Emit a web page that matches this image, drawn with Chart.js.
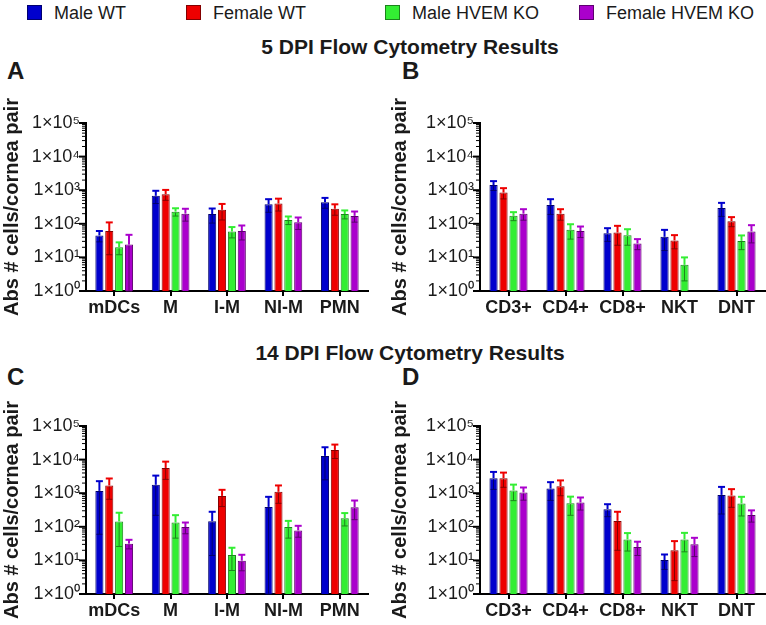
<!DOCTYPE html>
<html>
<head>
<meta charset="utf-8">
<script src="https://cdn.jsdelivr.net/npm/chart.js@4.4.1/dist/chart.umd.min.js"></script>
<style>
  body { margin: 0; background: #fff; font-family: "Liberation Sans", Arial, sans-serif; }
  #page { position: relative; width: 766px; height: 625px; overflow: hidden; }
  canvas { position: absolute; }
  .leg { position: absolute; top: 2px; font-size: 18px; color: #1a1a1a; line-height: 22px; white-space: nowrap; }
  .leg i { display: inline-block; width: 13px; height: 13px; border: 1px solid rgba(0,0,0,.45); vertical-align: -1px; margin-right: 12px; }
  .ttl { position: absolute; left: 0; width: 820px; text-align: center; font-weight: bold; font-size: 21px; color: #1a1a1a; line-height: 24px; }
  .lt { position: absolute; font-weight: bold; font-size: 24px; color: #1a1a1a; line-height: 28px; }
</style>
</head>
<body>
<div id="page">
  <div class="leg" style="left:27px"><i style="background:#0000cd"></i>Male WT</div>
  <div class="leg" style="left:186px"><i style="background:#ee0000"></i>Female WT</div>
  <div class="leg" style="left:385px"><i style="background:#33ee33"></i>Male HVEM KO</div>
  <div class="leg" style="left:579px"><i style="background:#aa00cc"></i>Female HVEM KO</div>

  <div class="ttl" style="top:35px">5 DPI Flow Cytometry Results</div>
  <div class="ttl" style="top:341px">14 DPI Flow Cytometry Results</div>
  <div class="lt" style="left:7px;top:57px">A</div>
  <div class="lt" style="left:402px;top:57px">B</div>
  <div class="lt" style="left:7px;top:363px">C</div>
  <div class="lt" style="left:402px;top:363px">D</div>

  <canvas id="chartA" width="383" height="245" style="left:0;top:85px"></canvas>
  <canvas id="chartB" width="383" height="245" style="left:383px;top:85px"></canvas>
  <canvas id="chartC" width="383" height="235" style="left:0;top:390px"></canvas>
  <canvas id="chartD" width="383" height="235" style="left:383px;top:390px"></canvas>
</div>
<script>
// groups and cell types
const series = ["Male WT", "Female WT", "Male HVEM KO", "Female HVEM KO"];
const myeloidCells = ["mDCs", "M", "I-M", "NI-M", "PMN"];
const lymphoidCells = ["CD3+", "CD4+", "CD8+", "NKT", "DNT"];
const yDecades = [0, 1, 2, 3, 4, 5];

// 5 DPI myeloid (A): means and SEM
const a_maleWT = [45, 680, 195, 380, 440];
const a_femaleWT = [61, 760, 260, 400, 280];
const a_maleKO = [20, 230, 59, 130, 195];
const a_femaleKO = [24, 200, 61, 111, 172];
const a_semMaleWT = [16, 280, 90, 160, 150];
const a_semFemaleWT = [49, 260, 130, 160, 100];
const a_semMaleKO = [8, 60, 21, 35, 55];
const a_semFemaleKO = [23, 80, 28, 43, 60];

// 5 DPI lymphoid (B)
const b_maleWT = [1420, 365, 52, 41, 293];
const b_femaleWT = [850, 200, 55, 32, 120];
const b_maleKO = [173, 66, 46, 6, 31];
const b_femaleKO = [200, 61, 26, null, 59];
const b_semMaleWT = [440, 175, 22, 25, 127];
const b_semFemaleWT = [300, 72, 32, 14, 38];
const b_semMaleKO = [49, 31, 23, 4, 14];
const b_semFemaleKO = [72, 22, 9, null, 32];

// 14 DPI myeloid (C)
const c_maleWT = [1170, 1780, 147, 390, 12900];
const c_femaleWT = [1700, 5640, 830, 1100, 19400];
const c_maleKO = [144, 134, 14.4, 98, 181];
const c_femaleKO = [31.5, 98, 9.8, 78, 384];
const c_semMaleWT = [1110, 1560, 133, 390, 10400];
const c_semFemaleWT = [1040, 3060, 430, 600, 8600];
const c_semMaleKO = [118, 88, 9.4, 52, 75];
const c_semFemaleKO = [9.5, 36, 4.9, 29, 221];

// 14 DPI lymphoid (D)
const d_maleWT = [2800, 1370, 335, 10.2, 890];
const d_femaleWT = [2800, 1620, 150, 20, 850];
const d_maleKO = [1200, 505, 42, 42, 495];
const d_femaleKO = [1050, 530, 25, 30, 223];
const d_semMaleWT = [1500, 760, 135, 4.8, 650];
const d_semFemaleWT = [1300, 780, 130, 17.5, 470];
const d_semMaleKO = [600, 285, 23, 24, 285];
const d_semFemaleKO = [430, 215, 11, 17, 85];

const fills = ["#0000cd", "#ee0000", "#33ee33", "#aa00cc"];
const edges = ["#00006e", "#860000", "#1c861c", "#5c006e"];
const FONT = "'Liberation Sans', Arial, sans-serif";
const SUP = ["\u2070", "\u00b9", "\u00b2", "\u00b3", "\u2074", "\u2075"];

const isPow10 = v => Math.abs(Math.log10(v) - Math.round(Math.log10(v))) < 1e-9;

// log axis positions 1..9 x 10^n
let yTicks = [];
yDecades.forEach(p => {
  if (p === yDecades[yDecades.length - 1]) { yTicks.push(Math.pow(10, p)); return; }
  for (let k = 1; k <= 9; k++) yTicks.push(k * Math.pow(10, p));
});

function line(ctx, x1, y1, x2, y2) {
  ctx.beginPath(); ctx.moveTo(x1, y1); ctx.lineTo(x2, y2); ctx.stroke();
}

const errorBars = {
  id: "errorBars",
  afterDatasetsDraw(chart) {
    const ctx = chart.ctx, ys = chart.scales.y;
    chart.data.datasets.forEach((ds, i) => {
      chart.getDatasetMeta(i).data.forEach((bar, j) => {
        const m = ds.data[j], e = ds.sem[j];
        if (m == null || e == null) return;
        const top = ys.getPixelForValue(m + e);
        const low = ys.getPixelForValue(Math.max(m - e, 1));
        ctx.save();
        ctx.lineWidth = 2;
        ctx.strokeStyle = ds.backgroundColor;
        line(ctx, bar.x, bar.y, bar.x, top);
        line(ctx, bar.x - 3.5, top, bar.x + 3.5, top);
        ctx.lineWidth = 1;
        ctx.strokeStyle = ds.borderColor;
        line(ctx, bar.x, bar.y + 1, bar.x, low);
        line(ctx, bar.x - 3, low, bar.x + 3, low);
        ctx.restore();
      });
    });
  }
};

const logTickMarks = {
  id: "logTickMarks",
  afterDraw(chart) {
    const ctx = chart.ctx, ys = chart.scales.y, x0 = chart.chartArea.left - 1;
    ctx.save();
    ctx.strokeStyle = "#000";
    ys.ticks.forEach(t => {
      const major = isPow10(t.value);
      const py = ys.getPixelForValue(t.value);
      ctx.lineWidth = major ? 2 : 1;
      line(ctx, x0, py, x0 - (major ? 6 : 3), py);
    });
    ctx.restore();
  }
};

function makePanel(id, cats, means, sems, box) {
  new Chart(document.getElementById(id), {
    type: "bar",
    data: {
      labels: cats,
      datasets: series.map((name, i) => ({
        label: name,
        data: means[i],
        sem: sems[i],
        backgroundColor: fills[i],
        borderColor: edges[i],
        borderWidth: 1,
        categoryPercentage: 0.7,
        barPercentage: 0.82
      }))
    },
    options: {
      responsive: false,
      animation: false,
      layout: { padding: { top: box.padTop, right: box.padRight, left: 0, bottom: 0 } },
      plugins: { legend: { display: false }, tooltip: { enabled: false } },
      scales: {
        x: {
          afterFit: s => { s.height = box.xHeight; },
          border: { display: true, color: "#000", width: 2 },
          grid: { display: true, drawOnChartArea: false, drawTicks: true, tickLength: 5, offset: false, color: "#000", lineWidth: 2 },
          ticks: { color: "#1a1a1a", padding: 1, maxRotation: 0, minRotation: 0, autoSkip: false,
                   font: { family: FONT, size: 18, weight: "bold" } }
        },
        y: {
          type: "logarithmic",
          min: 1,
          max: 100000,
          afterBuildTicks: s => { s.ticks = yTicks.map(v => ({ value: v })); },
          afterFit: s => { s.width = box.yWidth; },
          border: { display: true, color: "#000", width: 2 },
          grid: { display: false, drawTicks: false, tickLength: 0 },
          ticks: {
            autoSkip: false, padding: 6, color: "#1a1a1a",
            font: { family: FONT, size: 18 },
            callback: v => isPow10(v) ? "1\u00d710" + SUP[Math.round(Math.log10(v))] : ""
          },
          title: {
            display: true, text: "Abs # cells/cornea pair", color: "#1a1a1a",
            font: { family: FONT, size: 20, weight: "bold" },
            padding: { top: box.titlePad, bottom: 0 }
          }
        }
      }
    },
    plugins: [errorBars, logTickMarks]
  });
}

makePanel("chartA", myeloidCells,
  [a_maleWT, a_femaleWT, a_maleKO, a_femaleKO],
  [a_semMaleWT, a_semFemaleWT, a_semMaleKO, a_semFemaleKO],
  { padTop: 38, padRight: 15, yWidth: 86, xHeight: 39, titlePad: 0 });
makePanel("chartB", lymphoidCells,
  [b_maleWT, b_femaleWT, b_maleKO, b_femaleKO],
  [b_semMaleWT, b_semFemaleWT, b_semMaleKO, b_semFemaleKO],
  { padTop: 38, padRight: 1, yWidth: 97, xHeight: 39, titlePad: 5 });
makePanel("chartC", myeloidCells,
  [c_maleWT, c_femaleWT, c_maleKO, c_femaleKO],
  [c_semMaleWT, c_semFemaleWT, c_semMaleKO, c_semFemaleKO],
  { padTop: 36, padRight: 15, yWidth: 86, xHeight: 31, titlePad: 0 });
makePanel("chartD", lymphoidCells,
  [d_maleWT, d_femaleWT, d_maleKO, d_femaleKO],
  [d_semMaleWT, d_semFemaleWT, d_semMaleKO, d_semFemaleKO],
  { padTop: 36, padRight: 1, yWidth: 97, xHeight: 31, titlePad: 5 });
</script>
</body>
</html>
